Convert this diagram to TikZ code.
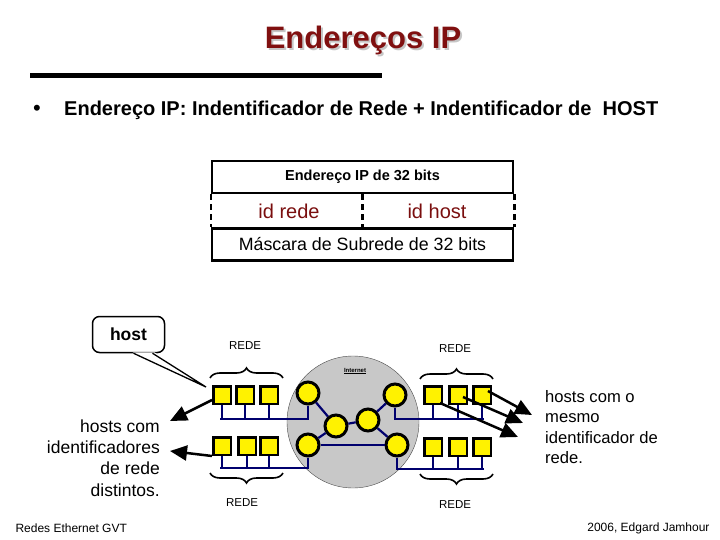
\documentclass[tikz,border=0pt]{standalone}
\usepackage{fontspec}
\setmainfont{Liberation Sans}
\usepackage{graphicx}
\usetikzlibrary{arrows.meta,calc,decorations.pathreplacing}
\definecolor{titlered}{RGB}{128,16,16}
\definecolor{idred}{RGB}{122,14,14}
\definecolor{busblue}{RGB}{0,0,110}
\definecolor{cloudgrey}{RGB}{200,200,200}
\newcommand{\fsz}[1]{\fontsize{#1}{1.22\dimexpr#1pt\relax}\selectfont}
\newcommand{\shadowtext}[1]{\makebox[0pt][l]{\hspace{2pt}\raisebox{-2pt}{\color{gray!45}#1}}#1}

\begin{document}
\begin{tikzpicture}[x=1pt,y=-1pt,
  pc/.style={draw,line width=2.5pt,fill=yellow,minimum size=17.5pt,inner sep=0pt},
  router/.style={draw,circle,line width=3pt,fill=yellow,minimum size=22pt,inner sep=0pt},
  link/.style={busblue,line width=2.2pt},
  redelabel/.style={font=\fsz{11.5}},
  redebrace/.style={decorate,decoration={brace,amplitude=10pt},line width=1.6pt},
  ptr/.style={-{Triangle[length=17pt,width=15pt]},line width=2.5pt},
  field/.style={draw,line width=2.5pt,minimum width=301pt,minimum height=32pt,inner sep=0pt}]
  \useasboundingbox (0,0) rectangle (720,540);
  % title
  \node[titlered,font=\bfseries\fsz{31}] (title) at (363,41) {\shadowtext{Endereços IP}};
  \draw[line width=5pt] (30,76) -- (382,76);
  \node[font=\fsz{22}] (bullet) at (37,110) {\textbullet};
  \node[anchor=west,inner sep=0pt,font=\bfseries\fsz{20}] (topic) at (64,110)
    {\resizebox{594pt}{\height}{Endereço IP: Indentificador de Rede + Indentificador de \ HOST}};
  % address box
  \node[field,font=\bfseries\fsz{14.5}] (addr) at (362.5,177) {Endereço IP de 32 bits};
  \node[field,font=\fsz{17.8}] (mask) at (362.5,244.5) {Máscara de Subrede de 32 bits};
  \draw[line width=2.5pt,dash pattern=on 6pt off 4pt] (addr.south west) -- (mask.north west)
    (addr.south) -- (mask.north) (addr.south east) -- (mask.north east);
  \node[idred,font=\fsz{20}] (idrede) at (289,211) {id rede};
  \node[idred,font=\fsz{20}] (idhost) at (437,211) {id host};
  % internet
  \node[circle,draw=black!70,fill=cloudgrey,minimum size=132pt] (inet) at (353,422) {};
  \node[font=\bfseries\fsz{6}] (inetlabel) at (355,371) {\underline{Internet}};
  \node[router] (r1) at (308,393) {};
  \node[router] (r2) at (308,445) {};
  \node[router] (r3) at (336,426) {};
  \node[router] (r4) at (368,420) {};
  \node[router] (r5) at (395,395) {};
  \node[router] (r6) at (397,445) {};
  \draw[link] (r1) -- (r3);
  \draw[link] (r2) -- (r3);
  \draw[link] (r3) -- (r4);
  \draw[link] (r4) -- (r5);
  \draw[link] (r4) -- (r6);
  \draw[link] (r2) -- (r6);
  % hosts
  \node[pc] (lu1) at (222,395) {};
  \node[pc] (lu2) at (245,395) {};
  \node[pc] (lu3) at (269,395) {};
  \node[pc] (ll1) at (222,446) {};
  \node[pc] (ll2) at (247,446) {};
  \node[pc] (ll3) at (269,446) {};
  \node[pc] (ru1) at (433,395) {};
  \node[pc] (ru2) at (458,395) {};
  \node[pc] (ru3) at (482,395) {};
  \node[pc] (rl1) at (433,447) {};
  \node[pc] (rl2) at (458,447) {};
  \node[pc] (rl3) at (482,447) {};
  \coordinate (lubus) at (220,419);
  \coordinate (llbus) at (220,468);
  \coordinate (rubus) at (484,419);
  \coordinate (rlbus) at (484,469);
  \draw[link] (lubus) -- (r1 |- lubus) -- (r1);
  \draw[link] (llbus) -- (r2 |- llbus) -- (r2);
  \draw[link] (rubus) -- (r5 |- rubus) -- (r5);
  \draw[link] (rlbus) -- (r6 |- rlbus) -- (r6);
  \foreach \h in {lu1,lu2,lu3} \draw[link] (\h) -- (\h |- lubus);
  \foreach \h in {ll1,ll2,ll3} \draw[link] (\h) -- (\h |- llbus);
  \foreach \h in {ru1,ru2,ru3} \draw[link] (\h) -- (\h |- rubus);
  \foreach \h in {rl1,rl2,rl3} \draw[link] (\h) -- (\h |- rlbus);
  % networks
  \draw[redebrace] (210,378) -- (283,378);
  \draw[redebrace] (283,473) -- (210,473);
  \draw[redebrace] (420,379) -- (493,379);
  \draw[redebrace] (493,474) -- (420,474);
  \node[redelabel] (lurede) at (245,346) {REDE};
  \node[redelabel] (llrede) at (242,503) {REDE};
  \node[redelabel] (rurede) at (455,349) {REDE};
  \node[redelabel] (rlrede) at (455,505) {REDE};
  % callout
  \node[draw,line width=1.5pt,rounded corners=7pt,minimum width=72pt,minimum height=36pt,
    font=\bfseries\fsz{17.5}] (hostcall) at (128.5,334.5) {host};
  \coordinate (callpt) at (206,387);
  \fill[white] ($(hostcall.south)+(4,-1)$) -- (callpt) -- ($(hostcall.south)+(26,-1)$) -- cycle;
  \draw[line width=1.3pt] ($(hostcall.south)+(5,0)$) -- (callpt) -- ($(hostcall.south)+(24,0)$);
  % texts
  \node[anchor=east,align=right,inner sep=0pt,font=\fsz{17.5}] (ltext) at (160,458)
    {hosts com\\identificadores\\de rede\\distintos.};
  \node[anchor=west,align=left,inner sep=0pt,font=\fsz{16.6}] (rtext) at (545,427)
    {hosts com o\\mesmo\\identificador de\\rede.};
  \coordinate (ltip1) at (170,421);
  \coordinate (ltip2) at (170,451);
  \draw[ptr] (lu1) -- (ltip1);
  \draw[ptr] (ll1.south west) -- (ltip2);
  \coordinate (rtip1) at (518,437);
  \coordinate (rtip2) at (523,423);
  \coordinate (rtip3) at (532,415);
  \draw[ptr] ($(ru1)+(7,8)$) -- (rtip1);
  \draw[ptr] ($(ru2)+(5,2)$) -- (rtip2);
  \draw[ptr] ($(ru3)+(6,-4)$) -- (rtip3);
  % footer
  \node[anchor=west,font=\fsz{12}] (footl) at (12,528) {Redes Ethernet GVT};
  \node[anchor=east,font=\fsz{12}] (footr) at (713,528) {2006, Edgard Jamhour};
\end{tikzpicture}
\end{document}
